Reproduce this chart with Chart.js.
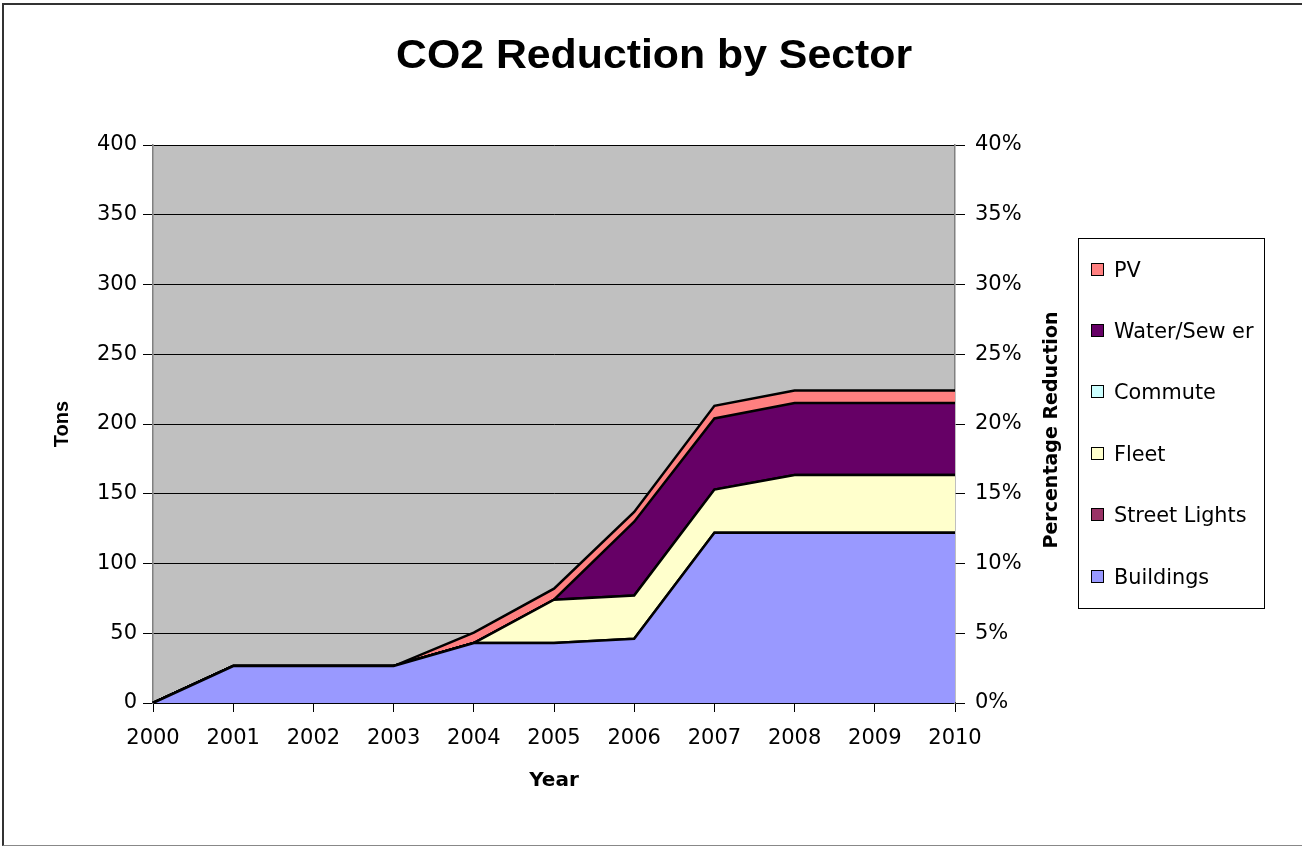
<!DOCTYPE html>
<html>
<head>
<meta charset="utf-8">
<script src="https://cdn.jsdelivr.net/npm/chart.js@4.4.1/dist/chart.umd.min.js"></script>
<style>
  html, body { margin: 0; padding: 0; background: #fff; overflow: hidden; }
  #wrap { position: relative; width: 1302px; height: 847px; overflow: hidden; }
  #frame { position: absolute; left: 2px; top: 3px; width: 1320px; height: 843px; border-left: 2px solid #333; border-top: 2px solid #333; border-bottom: 1px solid #888; box-sizing: border-box; }
  #title { position: absolute; left: 396px; top: 30px; transform: scaleX(1.07); transform-origin: left center;
           font-family: "Liberation Sans", Arial, sans-serif; font-weight: bold; font-size: 40px; line-height: 48px; color: #000; white-space: nowrap; }
  #y2title { position: absolute; left: 1050px; top: 430px; transform: translate(-50%, -50%) rotate(-90deg); font-family: "DejaVu Sans", sans-serif; font-weight: bold; font-size: 19px; color: #000; white-space: nowrap; }
  #legend { position: absolute; left: 1078px; top: 238px; width: 187px; height: 371px; border: 1px solid #000; box-sizing: border-box; background: #fff;
            font-family: "DejaVu Sans", sans-serif; font-size: 20.8px; color: #000; }
  .item { position: absolute; left: 12px; height: 24px; line-height: 24px; white-space: nowrap; }
  .sw { display: inline-block; width: 11px; height: 11px; border: 1.5px solid #000; vertical-align: middle; margin-right: 10px; position: relative; top: -2px; }
</style>
</head>
<body>
<div id="wrap">
  <canvas id="c" width="1302" height="847"></canvas>
  <div id="frame"></div>
  <div id="title">CO2 Reduction by Sector</div>
  <div id="y2title">Percentage Reduction</div>
  <div id="legend"></div>
</div>
<script>
// data (tons, stacked bottom to top)
const years = ['2000','2001','2002','2003','2004','2005','2006','2007','2008','2009','2010'];
const sectors = ['Buildings', 'Street Lights', 'Fleet', 'Commute', 'Water/Sew er', 'PV'];
const colors = ['#9999FF', '#993366', '#FFFFCC', '#CCFFFF', '#660066', '#FF8080'];
const buildings    = [0, 26.5, 26.5, 26.5, 43, 43, 46, 122, 122, 122, 122];
const streetLights = [0, 0, 0, 0, 0, 0, 0, 0, 0, 0, 0];
const fleet        = [0, 0, 0, 0, 0, 31, 31, 31, 41.5, 41.5, 41.5];
const commute      = [0, 0, 0, 0, 0, 0, 0, 0, 0, 0, 0];
const waterSewer   = [0, 0, 0, 0, 0, 0, 53, 51, 51.5, 51.5, 51.5];
const pv           = [0, 0, 0, 0, 7.5, 8, 7, 9, 9, 9, 9];
const series = [buildings, streetLights, fleet, commute, waterSewer, pv];

const FONT = '"DejaVu Sans", sans-serif';
const FONT2 = '"Liberation Sans", Arial, sans-serif';

// grey plot background
const plotBg = {
  id: 'plotBg',
  beforeDraw(chart) {
    const { ctx, chartArea: a } = chart;
    ctx.save();
    ctx.fillStyle = '#C0C0C0';
    ctx.fillRect(a.left, a.top, a.right - a.left, a.bottom - a.top);
    ctx.restore();
  }
};

const datasets = series.map((vals, i) => ({
  label: sectors[i],
  data: vals,
  backgroundColor: colors[i],
  borderColor: '#000',
  borderWidth: 2.5,
  fill: i === 0 ? 'origin' : '-1',
  pointRadius: 0,
  tension: 0
}));

new Chart(document.getElementById('c'), {
  type: 'line',
  data: { labels: years, datasets },
  plugins: [plotBg],
  options: {
    responsive: false,
    animation: false,
    layout: { padding: { left: 46, right: 240, top: 145, bottom: 50 } },
    plugins: {
      legend: { display: false },
      tooltip: { enabled: false },
      title: { display: false }
    },
    scales: {
      x: {
        offset: false,
        grid: { display: true, drawOnChartArea: false, drawTicks: true, tickLength: 9, color: '#000' },
        border: { color: '#000', width: 2 },
        ticks: { color: '#000', font: { family: FONT, size: 21 }, padding: 14, maxRotation: 0, autoSkip: false },
        title: { display: true, text: 'Year', color: '#000', font: { family: FONT, size: 20, weight: 'bold' }, padding: { top: 8, bottom: 4 } },
        afterFit(s) { s.height = 94; }
      },
      y: {
        stacked: true,
        min: 0, max: 400,
        ticks: { stepSize: 50, color: '#000', font: { family: FONT, size: 21 }, padding: 6 },
        grid: { color: '#000', lineWidth: 1, tickLength: 10, tickColor: '#000' },
        border: { color: '#808080', width: 1.5 },
        title: { display: true, text: 'Tons', color: '#000', font: { family: FONT2, size: 20, weight: 'bold' }, padding: 4 },
        afterFit(s) { s.width = 107; }
      },
      y2: {
        position: 'right',
        min: 0, max: 0.4,
        ticks: { stepSize: 0.05, color: '#000', font: { family: FONT, size: 21 }, padding: 10,
                 callback: v => Math.round(v * 100) + '%' },
        grid: { drawOnChartArea: false, tickLength: 10, color: '#000' },
        border: { color: '#808080', width: 1.5 },
        title: { display: false },
        afterFit(s) { s.width = 107; }
      }
    }
  }
});

// legend, top to bottom in reverse stack order
const legendEl = document.getElementById('legend');
const itemTops = [19, 80, 141, 203, 264, 326];
sectors.slice().reverse().forEach((name, k) => {
  const i = sectors.length - 1 - k;
  const d = document.createElement('div');
  d.className = 'item';
  d.style.top = itemTops[k] + 'px';
  d.innerHTML = '<span class="sw" style="background:' + colors[i] + '"></span>' + name;
  legendEl.appendChild(d);
});
</script>
</body>
</html>
